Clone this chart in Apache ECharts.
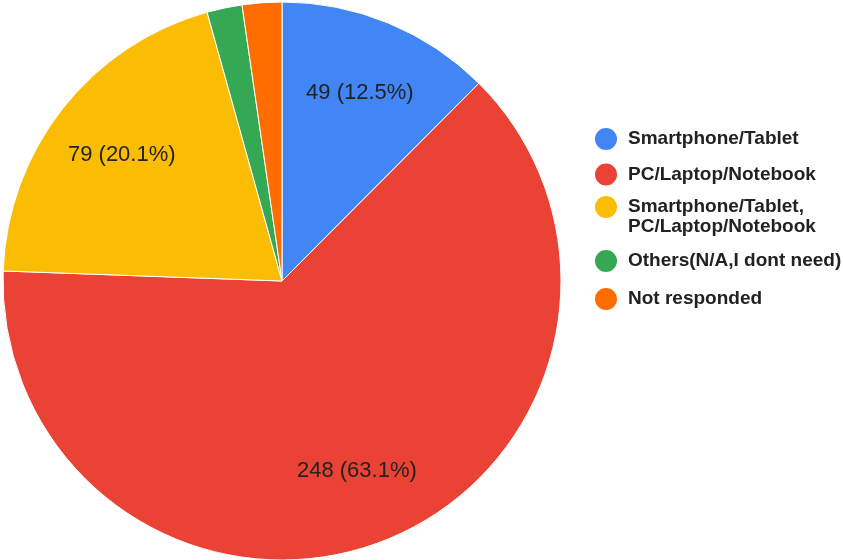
<!DOCTYPE html>
<html><head><meta charset="utf-8">
<script src="https://cdn.jsdelivr.net/npm/echarts@6/dist/echarts.min.js"></script>
<style>html,body{margin:0;padding:0;background:#fff}#c{width:843px;height:560px}</style>
</head><body><div id="c"></div>
<script>
const categories = ['Smartphone/Tablet', 'PC/Laptop/Notebook', 'Smartphone/Tablet,\nPC/Laptop/Notebook', 'Others(N/A,I dont need)', 'Not responded'];
const values = [49, 248, 79, 8, 9];
const colors = ['#4285F4', '#EA4335', '#FBBC04', '#34A853', '#FF6D01'];
const legendCenters = [138, 173.5, 207, 260, 298];

const total = values.reduce((a, b) => a + b, 0);
const font = 'Arial, "Liberation Sans", sans-serif';
const L = 20;
const IH = 24;

const pieData = categories.map((n, i) => ({ name: n, value: values[i], itemStyle: { color: colors[i] } }));
const labelData = categories.map((n, i) => ({ name: n, value: values[i], label: { show: values[i] / total > 0.05 } }));

const legends = categories.map((n, i) => {
  const multi = n.indexOf('\n') >= 0;
  return {
    data: [{ name: n, icon: 'circle' }],
    orient: 'vertical',
    left: 593,
    top: multi ? legendCenters[i] - 1.5 * L : legendCenters[i] - IH / 2,
    padding: 0,
    itemWidth: IH, itemHeight: IH,
    selectedMode: false,
    formatter: multi ? (name) => '\n' + name : '{name}',
    textStyle: { fontFamily: font, fontSize: 19, fontWeight: 'bold', color: '#222', lineHeight: L, padding: [0, 0, 0, 5] }
  };
});

const chart = echarts.init(document.getElementById('c'));
chart.setOption({
  animation: false,
  legend: legends,
  series: [
    {
      type: 'pie', center: [282, 281], radius: 279, startAngle: 90, clockwise: true,
      label: { show: false }, labelLine: { show: false },
      itemStyle: { borderColor: '#fff', borderWidth: 1 },
      emphasis: { disabled: true },
      data: pieData
    },
    {
      type: 'pie', center: [282, 281], radius: [123, 279], startAngle: 90, clockwise: true,
      silent: true, percentPrecision: 1,
      itemStyle: { color: 'transparent' },
      label: { position: 'inside', formatter: '{c} ({d}%)', fontFamily: font, fontSize: 22, color: '#222' },
      labelLine: { show: false },
      emphasis: { disabled: true },
      data: labelData
    }
  ]
});
</script></body></html>
